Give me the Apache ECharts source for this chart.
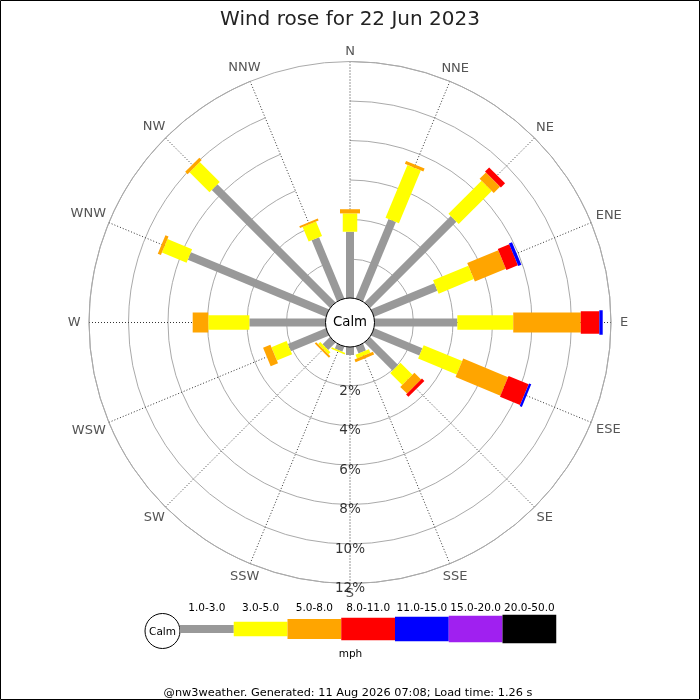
<!DOCTYPE html>
<html>
<head>
<meta charset="utf-8">
<script src="https://cdn.jsdelivr.net/npm/echarts@6/dist/echarts.min.js"></script>
<style>
html,body{margin:0;padding:0;background:#fff;}
#chart{width:700px;height:700px;}
</style>
</head>
<body>
<div id="chart"></div>
<script>
// ---- data (percent of time, per direction and speed band) ----
const dirs = ['N','NNE','NE','ENE','E','ESE','SE','SSE','S','SSW','SW','WSW','W','WNW','NW','NNW'];
const bandLabels = ['1.0-3.0','3.0-5.0','5.0-8.0','8.0-11.0','11.0-15.0','15.0-20.0','20.0-50.0'];
const spd1to3   = [3.38, 4.37, 6.20, 3.49, 4.22, 2.67, 2.03, 0.40, 0.43, 0.30, 0.55, 2.11, 3.88, 7.59, 8.48, 3.37];
const spd3to5   = [0.93, 2.90, 2.37, 1.93, 2.83, 2.11, 0.86, 0.20, 0.00, 0.08, 0.15, 0.83, 2.08, 1.35, 1.43, 0.80];
const spd5to8   = [0.21, 0.16, 0.45, 1.70, 3.42, 2.46, 0.48, 0.15, 0.00, 0.00, 0.10, 0.40, 0.79, 0.17, 0.17, 0.10];
const spd8to11  = [0.00, 0.00, 0.30, 0.63, 0.94, 1.10, 0.17, 0.00, 0.00, 0.00, 0.00, 0.00, 0.00, 0.00, 0.00, 0.00];
const spd11to15 = [0.00, 0.00, 0.00, 0.17, 0.17, 0.12, 0.00, 0.00, 0.00, 0.00, 0.00, 0.00, 0.00, 0.00, 0.00, 0.00];
const spd15to20 = [0,0,0,0,0,0,0,0,0,0,0,0,0,0,0,0];
const spd20to50 = [0,0,0,0,0,0,0,0,0,0,0,0,0,0,0,0];
const radiusTicks = [2, 4, 6, 8, 10, 12];

// ---- styles ----
const bandColors = ['#999999','#ffff00','#ffa500','#ff0000','#0000ff','#a020f0','#000000'];
const bandWidths = [8, 14.5, 20, 22.5, 24.5, 26.5, 28.5];
const FONT = 'DejaVu Sans';
const DIR_FONT = '13px "' + FONT + '"';

const bands = [spd1to3, spd3to5, spd5to8, spd8to11, spd11to15, spd15to20, spd20to50];
const barData = [];
dirs.forEach(function (d, i) {
  let cum = 0;
  bands.forEach(function (vals, b) {
    const v = vals[i];
    if (v > 0) barData.push([i, b, cum, cum + v]);
    cum += v;
  });
});
const rMax = radiusTicks[radiusTicks.length - 1];
const dirLabelData = dirs.map(function (d, i) { return [rMax, i]; });

const measureCtx = document.createElement('canvas').getContext('2d');
function textWidth(t, font) { measureCtx.font = font; return measureCtx.measureText(t).width; }

function renderBar(params, api) {
  const cs = params.coordSys;
  const i = api.value(0), b = api.value(1);
  const p0 = api.coord([api.value(2), i]);
  const p1 = api.coord([api.value(3), i]);
  const dx = p1[0] - cs.cx, dy = p1[1] - cs.cy;
  const len = Math.sqrt(dx * dx + dy * dy) || 1;
  const nx = -dy / len, ny = dx / len;
  const h = bandWidths[b] / 2;
  return {
    type: 'polygon',
    shape: { points: [
      [p0[0] + nx * h, p0[1] + ny * h],
      [p1[0] + nx * h, p1[1] + ny * h],
      [p1[0] - nx * h, p1[1] - ny * h],
      [p0[0] - nx * h, p0[1] - ny * h]
    ] },
    style: { fill: bandColors[b] }
  };
}

function renderDirLabel(params, api) {
  const cs = params.coordSys;
  const i = api.value(1);
  const p = api.coord([api.value(0), i]);
  const dx = p[0] - cs.cx, dy = p[1] - cs.cy;
  const len = Math.sqrt(dx * dx + dy * dy) || 1;
  const ux = dx / len, uy = dy / len;
  const w = textWidth(dirs[i], DIR_FONT);
  const d = 10 + 0.75 * Math.abs(ux) * w / 2;
  return {
    type: 'text',
    style: { x: p[0] + ux * d, y: p[1] + uy * d, text: dirs[i], fill: '#555',
      font: DIR_FONT, textAlign: 'center', textVerticalAlign: 'middle' }
  };
}

function renderCalm(params, api) {
  const cs = params.coordSys;
  return {
    type: 'group',
    children: [
      { type: 'circle', shape: { cx: cs.cx, cy: cs.cy, r: cs.r0 + 0.5 },
        style: { fill: '#fff', stroke: '#000', lineWidth: 1 } },
      { type: 'text', style: { x: cs.cx, y: cs.cy, text: 'Calm', fill: '#000',
        font: '13.3px "' + FONT + '"', textAlign: 'center', textVerticalAlign: 'middle' } }
    ]
  };
}

// ---- legend graphics ----
const legend = [];
const lx0 = 180, lw = 53.75, lcy = 629;
legend.push({ type: 'circle', shape: { cx: 162.5, cy: 631, r: 17.5 },
  style: { fill: '#fff', stroke: '#000', lineWidth: 1 } });
legend.push({ type: 'text', style: { x: 162.5, y: 632, text: 'Calm', fill: '#000',
  font: '10.5px "' + FONT + '"', textAlign: 'center', textVerticalAlign: 'middle' } });
bandLabels.forEach(function (lab, b) {
  legend.push({ type: 'rect', shape: { x: lx0 + b * lw, y: lcy - bandWidths[b] / 2, width: lw, height: bandWidths[b] },
    style: { fill: bandColors[b] } });
  legend.push({ type: 'text', style: { x: lx0 + b * lw + lw / 2, y: 608.5, text: lab, fill: '#000',
    font: '10.5px "' + FONT + '"', textAlign: 'center', textVerticalAlign: 'middle' } });
});
legend.push({ type: 'text', style: { x: 350.5, y: 654.5, text: 'mph', fill: '#000',
  font: '10.5px "' + FONT + '"', textAlign: 'center', textVerticalAlign: 'middle' } });
legend.push({ type: 'text', style: { x: 348, y: 693.5,
  text: '@nw3weather. Generated: 11 Aug 2026 07:08; Load time: 1.26 s', fill: '#000',
  font: '11.3px "' + FONT + '"', textAlign: 'center', textVerticalAlign: 'middle' } });
legend.push({ type: 'rect', shape: { x: 0.5, y: 0.5, width: 699, height: 699 },
  style: { fill: 'none', stroke: '#000', lineWidth: 1 }, z: 100 });

const chart = echarts.init(document.getElementById('chart'));
chart.setOption({
  backgroundColor: '#fff',
  animation: false,
  title: {
    text: 'Wind rose for 22 Jun 2023', left: 'center', top: 5,
    textStyle: { fontFamily: FONT, fontSize: 20, fontWeight: 'normal', color: '#222' }
  },
  polar: { center: [350, 322.5], radius: [24, 261] },
  angleAxis: {
    type: 'category', data: dirs, boundaryGap: false, startAngle: 90, clockwise: true,
    axisLine: { show: true, lineStyle: { color: '#aaaaaa', width: 1 } },
    axisTick: { show: false },
    axisLabel: { show: false },
    splitLine: { show: true, lineStyle: { color: '#333', width: 1, type: [1, 2] } }
  },
  radiusAxis: {
    type: 'value', min: 0, max: 12, interval: 2,
    axisLine: { show: false }, axisTick: { show: false }, axisLabel: { show: false },
    splitLine: { show: true, lineStyle: { color: '#aaaaaa', width: 1 } }
  },
  series: [
    { type: 'custom', coordinateSystem: 'polar', renderItem: renderBar, data: barData,
      encode: { radius: 3, angle: 0 }, z: 2, silent: true },
    { type: 'custom', coordinateSystem: 'polar', renderItem: renderDirLabel, data: dirLabelData,
      encode: { radius: 0, angle: 1 }, z: 2, silent: true },
    { type: 'custom', coordinateSystem: 'polar', renderItem: renderCalm, data: [[0, 0]],
      encode: { radius: 0, angle: 1 }, z: 3, silent: true },
    { type: 'scatter', coordinateSystem: 'polar', z: 4, silent: true,
      data: radiusTicks.map(function (v) { return [v, 8]; }),
      symbolSize: 1, itemStyle: { color: 'rgba(0,0,0,0)' },
      label: { show: true, position: 'inside', offset: [0, 5], color: '#000',
        fontFamily: FONT, fontSize: 13.5,
        formatter: function (p) { return p.value[0] + '%'; } } }
  ],
  graphic: legend
});
</script>
</body>
</html>
